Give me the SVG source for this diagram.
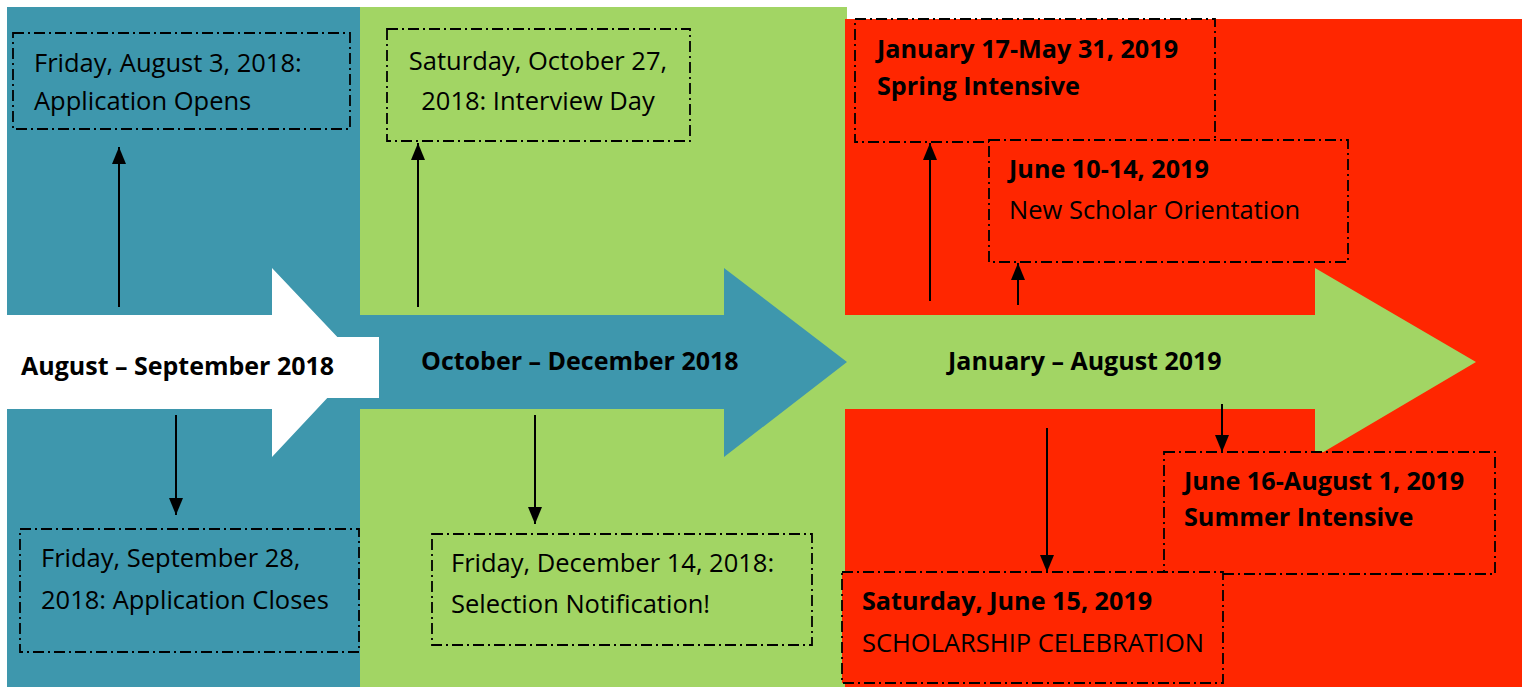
<svg xmlns="http://www.w3.org/2000/svg" width="1522" height="687" viewBox="0 0 1522 687">
<style>
.box{stroke:#000;stroke-width:1.8;stroke-dasharray:11 4 2 4}
.t{font-family:"Open Sans","Liberation Sans",sans-serif;font-size:25.5px;fill:#000}
.b{font-weight:bold;font-size:25.2px}
.lab{font-family:"Open Sans","Liberation Sans",sans-serif;font-size:25px;font-weight:bold;fill:#000}
.conn{stroke:#000;stroke-width:2;fill:none}
</style>
<defs>
<marker id="ah" viewBox="0 0 17 14" refX="17" refY="7" markerWidth="17" markerHeight="14" markerUnits="userSpaceOnUse" orient="auto">
<path d="M0,0 L17,7 L0,14 Z" fill="#000"/>
</marker>
</defs>
<rect width="1522" height="687" fill="#fff"/>
<g id="panels">
<rect x="7" y="7" width="354" height="680" fill="#3e97ad"/>
<rect x="360" y="7" width="487" height="680" fill="#a2d564"/>
<rect x="845" y="19" width="677" height="668" fill="#ff2600"/>
</g>
<g id="phase1">
<polygon points="7,315 272,315 272,268 361,362 272,457 272,409 7,409" fill="#fff"/>
</g>
<g id="phase3">
<polygon points="845,315 1315,315 1315,268 1476,362 1315,457 1315,409 845,409" fill="#a2d564"/>
</g>
<g id="phase2">
<polygon points="359,315 724,315 724,268 847,362 724,457 724,409 359,409" fill="#3e97ad"/>
<text class="lab" x="421" y="370">October – December 2018</text>
</g>
<g id="phase1-label">
<rect x="7" y="337" width="372" height="61" fill="#fff"/>
<text class="lab" x="21" y="375">August – September 2018</text>
</g>
<g id="phase3-label">
<text class="lab" x="948" y="370">January – August 2019</text>
</g>
<g id="n-app-opens">
<rect class="box" x="13" y="33" width="337" height="96" fill="#3e97ad"/>
<text class="t" x="34" y="72">Friday, August 3, 2018:</text>
<text class="t" x="34" y="110">Application Opens</text>
</g>
<g id="n-interview">
<rect class="box" x="387" y="29" width="303" height="112" fill="#a2d564"/>
<text class="t" x="538" y="70" text-anchor="middle">Saturday, October 27,</text>
<text class="t" x="538" y="110" text-anchor="middle">2018: Interview Day</text>
</g>
<g id="n-app-closes">
<rect class="box" x="20" y="529" width="339" height="123" fill="#3e97ad"/>
<text class="t" x="41" y="567">Friday, September 28,</text>
<text class="t" x="41" y="609">2018: Application Closes</text>
</g>
<g id="n-selection">
<rect class="box" x="432" y="534" width="380" height="111" fill="#a2d564"/>
<text class="t" x="451" y="572">Friday, December 14, 2018:</text>
<text class="t" x="451" y="613">Selection Notification!</text>
</g>
<g id="n-spring">
<rect class="box" x="855" y="19" width="360" height="123" fill="#ff2600"/>
<text class="t b" x="877" y="58">January 17-May 31, 2019</text>
<text class="t b" x="877" y="95">Spring Intensive</text>
</g>
<g id="n-orientation">
<rect class="box" x="989" y="140" width="359" height="122" fill="#ff2600"/>
<text class="t b" x="1009" y="178">June 10-14, 2019</text>
<text class="t" x="1009" y="219">New Scholar Orientation</text>
</g>
<g id="n-summer">
<rect class="box" x="1164" y="452" width="331" height="122" fill="#ff2600"/>
<text class="t b" x="1184" y="490">June 16-August 1, 2019</text>
<text class="t b" x="1184" y="526">Summer Intensive</text>
</g>
<g id="n-celebration">
<rect class="box" x="842" y="572" width="381" height="111" fill="#ff2600"/>
<text class="t b" x="862" y="610">Saturday, June 15, 2019</text>
<text class="t" x="862" y="652">SCHOLARSHIP CELEBRATION</text>
</g>
<g id="connectors">
<line class="conn" x1="119" y1="307" x2="119" y2="147" marker-end="url(#ah)"/>
<line class="conn" x1="418" y1="307" x2="418" y2="143" marker-end="url(#ah)"/>
<line class="conn" x1="930" y1="301" x2="930" y2="143" marker-end="url(#ah)"/>
<line class="conn" x1="1018" y1="305" x2="1018" y2="263" marker-end="url(#ah)"/>
<line class="conn" x1="176" y1="415" x2="176" y2="515" marker-end="url(#ah)"/>
<line class="conn" x1="535" y1="415" x2="535" y2="524" marker-end="url(#ah)"/>
<line class="conn" x1="1047" y1="428" x2="1047" y2="572" marker-end="url(#ah)"/>
<line class="conn" x1="1222" y1="404" x2="1222" y2="452" marker-end="url(#ah)"/>
</g>
</svg>
